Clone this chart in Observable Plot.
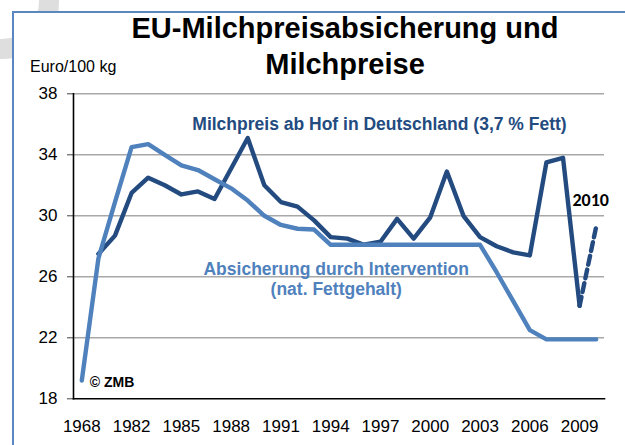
<!DOCTYPE html>
<html>
<head>
<meta charset="utf-8">
<script src="https://cdn.jsdelivr.net/npm/d3@7"></script>
<script src="https://cdn.jsdelivr.net/npm/@observablehq/plot@0.6"></script>
<style>
  html, body { margin: 0; padding: 0; background: #fff; }
  #wrap { position: relative; width: 625px; height: 445px; overflow: hidden; font-family: "Liberation Sans", Arial, sans-serif; }
  #ring { position: absolute; left: -55px; top: -55px; width: 114px; height: 114px; box-sizing: border-box; border: 20px solid #dedede; border-radius: 50%; }
  #frame { position: absolute; left: 12px; top: 11px; width: 620px; height: 460px; box-sizing: border-box; border: 2.5px solid #5b87c1; background: #fff; }
  #chart { position: absolute; left: 0; top: 0; }
  #title { position: absolute; left: 65px; width: 560px; top: 11.4px; text-align: center; font-weight: bold; font-size: 29px; line-height: 35.7px; color: #000; }
  #unit { position: absolute; left: 30px; top: 59px; font-size: 16px; line-height: 16px; color: #000; }
</style>
</head>
<body>
<div id="wrap">
  <div id="ring"></div>
  <div id="frame"></div>
  <div id="chart"></div>
  <div id="title">EU-Milchpreisabsicherung und<br>Milchpreise</div>
  <div id="unit">Euro/100 kg</div>
</div>
<script>
// Categories (x axis)
const years = ["1968","1980","1981","1982","1983","1984","1985","1986","1987","1988","1989","1990","1991","1992","1993","1994","1995","1996","1997","1998","1999","2000","2001","2002","2003","2004","2005","2006","2007","2008","2009","2010"];
const tickYears = ["1968","1982","1985","1988","1991","1994","1997","2000","2003","2006","2009"];
const yTicks = [18, 22, 26, 30, 34, 38];

// Milchpreis ab Hof in Deutschland (3,7 % Fett), Euro/100 kg
const milchpreis = [null, 27.5, 28.7, 31.5, 32.5, 32.0, 31.4, 31.6, 31.1, 33.1, 35.1, 32.0, 30.9, 30.6, 29.7, 28.6, 28.5, 28.1, 28.3, 29.8, 28.5, 29.9, 32.9, 30.0, 28.6, 28.0, 27.6, 27.4, 33.5, 33.8, 24.1, null];
// 2010 projection (dashed)
const projYears = ["2009", "2010"];
const projValues = [24.1, 29.3];
// Absicherung durch Intervention (nat. Fettgehalt)
const absicherung = [19.2, 27.2, 30.9, 34.5, 34.7, 34.0, 33.3, 33.0, 32.4, 31.8, 31.0, 30.0, 29.4, 29.15, 29.1, 28.1, 28.1, 28.1, 28.1, 28.1, 28.1, 28.1, 28.1, 28.1, 28.1, 26.3, 24.4, 22.5, 21.9, 21.9, 21.9, 21.9];

const dark = "#234b80";
const light = "#4f81bd";

const milchData = years.map((y, i) => ({year: y, value: milchpreis[i]}));
const absData = years.map((y, i) => ({year: y, value: absicherung[i]}));
const projData = projYears.map((y, i) => ({year: y, value: projValues[i]}));

const chart = Plot.plot({
  width: 625,
  height: 445,
  marginLeft: 73,
  marginRight: 21,
  marginTop: 93.3,
  marginBottom: 46.7,
  style: {fontFamily: "'Liberation Sans', Arial, sans-serif", fontSize: "17px", color: "#000", background: "transparent", overflow: "visible"},
  x: {type: "point", domain: years, padding: 0.5, round: false, label: null},
  y: {domain: [18, 38], label: null},
  marks: [
    Plot.gridY(yTicks.slice(1), {stroke: "#a8a8a8", strokeOpacity: 1, strokeWidth: 1.4}),
    Plot.axisX({ticks: tickYears, tickSize: 0, tickPadding: 21, label: null, fontSize: 17}),
    Plot.axisY({ticks: yTicks, tickSize: 6, tickPadding: 10, label: null, fontSize: 17, stroke: "#444"}),
    Plot.frame({anchor: "left", stroke: "#000", strokeWidth: 1.6}),
    Plot.frame({anchor: "bottom", stroke: "#000", strokeWidth: 1.6}),
    Plot.line(milchData, {x: "year", y: "value", stroke: dark, strokeWidth: 4.4, strokeLinejoin: "round"}),
    Plot.line(projData, {x: "year", y: "value", stroke: dark, strokeWidth: 4.4, strokeDasharray: "9,5"}),
    Plot.line(absData, {x: "year", y: "value", stroke: light, strokeWidth: 4.4, strokeLinejoin: "round"}),
    Plot.text(["Milchpreis ab Hof in Deutschland (3,7 % Fett)"], {x: () => "1997", y: () => 36.47, text: d => d, fill: dark, fontWeight: "bold", fontSize: 17.5, lineAnchor: "top", dx: -1}),
    Plot.text(["Absicherung durch Intervention\n(nat. Fettgehalt)"], {x: () => "1994", y: () => 27.05, text: d => d, fill: light, fontWeight: "bold", fontSize: 17.5, lineAnchor: "top", lineHeight: 1.13, dx: 5.5}),
    Plot.text(["2010"], {x: () => "2010", y: () => 31.5, text: d => d, fill: "#000", fontWeight: "bold", fontSize: 18, fontFamily: "Carlito, Lato, sans-serif", lineAnchor: "top", dx: -5.5}),
    Plot.text(["© ZMB"], {x: () => "1968", y: () => 19.41, text: d => d, fill: "#000", fontWeight: "bold", fontSize: 14, textAnchor: "start", lineAnchor: "top", dx: 8})
  ]
});
document.getElementById("chart").appendChild(chart);
</script>
</body>
</html>
